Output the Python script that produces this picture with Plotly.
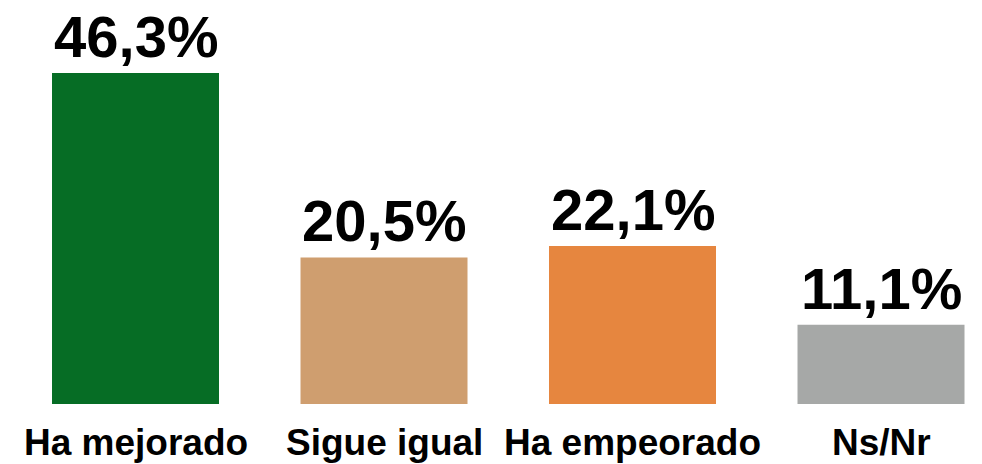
import plotly.graph_objects as go

# data
categories = ['Ha mejorado', 'Sigue igual', 'Ha empeorado', 'Ns/Nr']
values = [46.3, 20.5, 22.1, 11.1]
labels = ['46,3%', '20,5%', '22,1%', '11,1%']
colors = ['#066d25', '#cf9e6f', '#e6863f', '#a6a8a7']

fig = go.Figure()
fig.add_trace(go.Bar(
    x=list(range(len(categories))),
    y=values,
    width=0.672,
    marker=dict(color=colors, line=dict(width=0)),
    hoverinfo='skip',
))

# value labels above the bars
for i, (v, t) in enumerate(zip(values, labels)):
    fig.add_annotation(x=i, y=v, text='<b>%s</b>' % t, showarrow=False,
                       yanchor='bottom', yshift=2,
                       font=dict(family='Liberation Sans, Arial', size=58, color='#000000'))

# category names under the bars
for i, c in enumerate(categories):
    fig.add_annotation(x=i, y=0, text='<b>%s</b>' % c, showarrow=False,
                       yanchor='top', yshift=-16,
                       font=dict(family='Liberation Sans, Arial', size=37, color='#000000'))

fig.update_layout(
    width=982, height=464,
    margin=dict(l=0, r=0, t=0, b=60),
    paper_bgcolor='white', plot_bgcolor='white',
    showlegend=False,
    xaxis=dict(range=[-0.5453, 3.4064], visible=False, fixedrange=True),
    yaxis=dict(range=[0, 56.5], visible=False, fixedrange=True),
)

fig.write_html('out.html', config={'displayModeBar': False},
               post_script="document.body.style.margin='0';")
